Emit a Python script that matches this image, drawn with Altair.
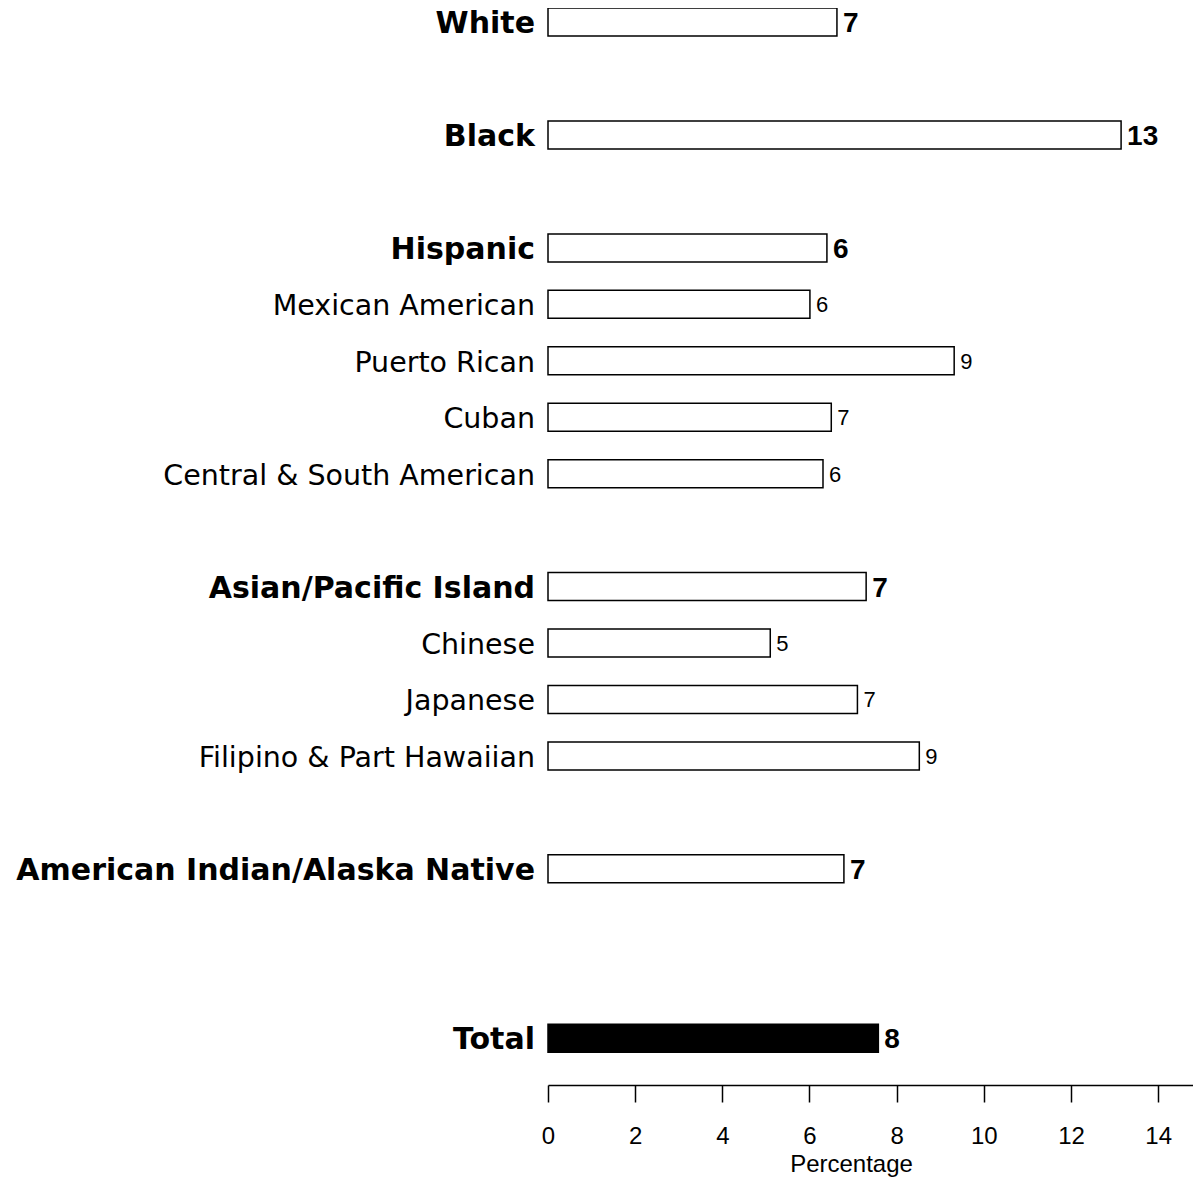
import altair as alt
import pandas as pd

categories = ["White", "Black", "Hispanic", "Mexican American", "Puerto Rican", "Cuban",
              "Central & South American", "Asian/Pacific Island", "Chinese", "Japanese",
              "Filipino & Part Hawaiian", "American Indian/Alaska Native", "Total"]
rows = [0, 2, 4, 5, 6, 7, 8, 10, 11, 12, 13, 15, 18]
values = [6.63, 13.15, 6.40, 6.01, 9.32, 6.50, 6.31, 7.30, 5.10, 7.10, 8.52, 6.79, 7.58]
value_labels = ["7", "13", "6", "6", "9", "7", "6", "7", "5", "7", "9", "7", "8"]
is_group = [True, True, True, False, False, False, False, True, False, False, False, True, True]
x_ticks = [0, 2, 4, 6, 8, 10, 12, 14]

df = pd.DataFrame({
    "category": categories,
    "row": rows,
    "value": values,
    "label": value_labels,
    "group": is_group,
})

FONT = "Liberation Sans"
CAT_FONT = "DejaVu Sans"
xs = alt.Scale(domain=[0, 14.8], nice=False, zero=True, padding=0)
ys = alt.Scale(domain=[-0.25, 18.83], reverse=True, nice=False, zero=False, padding=0)
y = alt.Y("row:Q", scale=ys, axis=None)

base = alt.Chart(df)

bars = base.mark_bar(orient="horizontal", size=28, stroke="black", strokeWidth=1.5).encode(
    x=alt.X("value:Q", scale=xs, axis=alt.Axis(
        values=x_ticks, title="Percentage", grid=False, format="d",
        domainColor="black", domainWidth=1.5, tickColor="black", tickWidth=1.5, tickSize=17,
        labelFont=FONT, labelFontSize=24, labelColor="black", labelPadding=22, labelFlush=False,
        titleFont=FONT, titleFontSize=24, titleFontWeight="normal", titleColor="black",
        titleX=303, titleY=86, titleAlign="center", titleBaseline="alphabetic")),
    x2=alt.datum(0),
    y=y,
    fill=alt.condition(alt.datum.category == "Total", alt.value("black"), alt.value("white")),
)

cat_bold = base.transform_filter("datum.group").mark_text(
    align="right", baseline="middle", dx=-13, dy=2, font=CAT_FONT, fontSize=30, fontWeight="bold", color="black"
).encode(x=alt.value(0), y=y, text="category:N")

cat_norm = base.transform_filter("!datum.group").mark_text(
    align="right", baseline="middle", dx=-13, dy=2, font=CAT_FONT, fontSize=28.5, fontWeight="normal", color="black"
).encode(x=alt.value(0), y=y, text="category:N")

val_bold = base.transform_filter("datum.group").mark_text(
    align="left", baseline="middle", dx=6, dy=2, font=FONT, fontSize=28, fontWeight="bold", color="black"
).encode(x=alt.X("value:Q", scale=xs), y=y, text="label:N")

val_norm = base.transform_filter("!datum.group").mark_text(
    align="left", baseline="middle", dx=6, dy=1, font=FONT, fontSize=22, fontWeight="normal", color="black"
).encode(x=alt.X("value:Q", scale=xs), y=y, text="label:N")

chart = alt.layer(bars, cat_bold, cat_norm, val_bold, val_norm).properties(
    width=645, height=1077,
    autosize=alt.AutoSizeParams(type="none"),
    padding={"left": 540, "top": 0, "right": 0, "bottom": 94},
).configure_view(stroke=None)

chart.save("out.html", embed_options={"renderer": "svg", "actions": False})
